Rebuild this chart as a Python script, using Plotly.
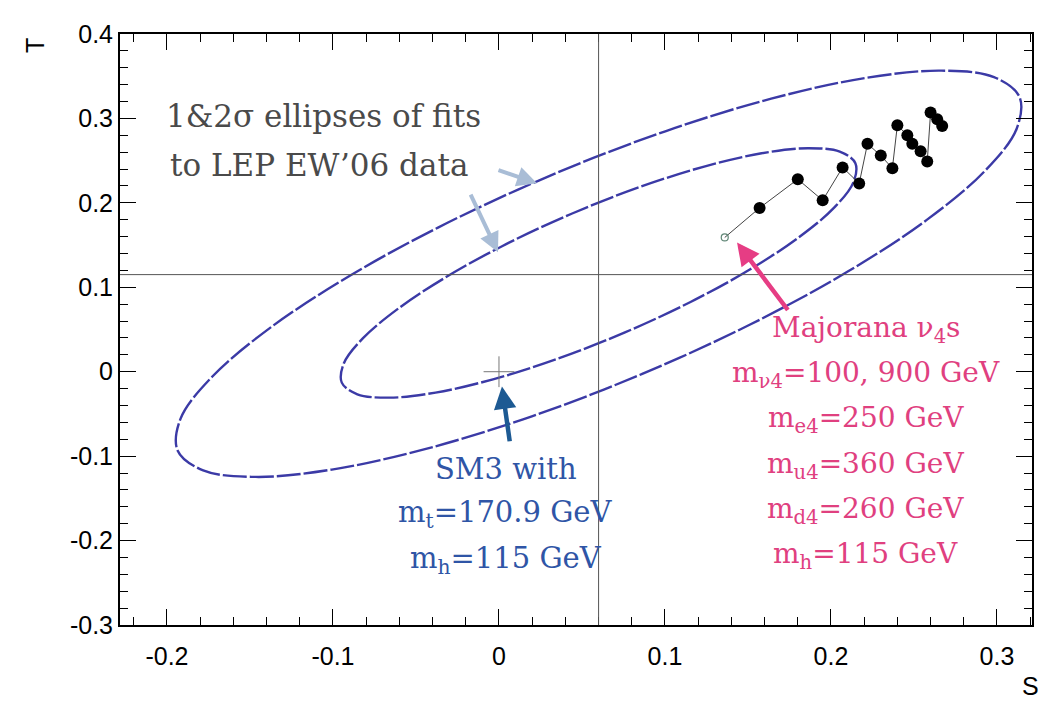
import plotly.graph_objects as go

# ---- data ----
# 2-sigma (outer) ellipse contour, S and T
outer_S = [0.3136, 0.3118, 0.2928, 0.2579, 0.2096, 0.1510, 0.0863, 0.0198, -0.0440, -0.1007, -0.1465, -0.1782,
           -0.1936, -0.1918, -0.1728, -0.1379, -0.0896, -0.0310, 0.0337, 0.1002, 0.1640, 0.2207, 0.2665, 0.2982, 0.3136]
outer_T = [0.3253, 0.2875, 0.2380, 0.1801, 0.1180, 0.0556, -0.0026, -0.0528, -0.0914, -0.1159, -0.1246, -0.1169,
           -0.0933, -0.0555, -0.0060, 0.0519, 0.1140, 0.1764, 0.2346, 0.2848, 0.3234, 0.3479, 0.3566, 0.3489, 0.3253]
# 1-sigma (inner) ellipse contour
inner_S = [0.2147, 0.2135, 0.2019, 0.1806, 0.1511, 0.1154, 0.0759, 0.0354, -0.0036, -0.0382, -0.0661, -0.0853,
           -0.0947, -0.0935, -0.0819, -0.0606, -0.0311, 0.0046, 0.0441, 0.0846, 0.1236, 0.1582, 0.1861, 0.2053, 0.2147]
inner_T = [0.2469, 0.2243, 0.1943, 0.1591, 0.1210, 0.0826, 0.0466, 0.0154, -0.0090, -0.0247, -0.0307, -0.0267,
           -0.0129, 0.0097, 0.0397, 0.0749, 0.1130, 0.1514, 0.1874, 0.2186, 0.2430, 0.2587, 0.2647, 0.2607, 0.2469]
# Majorana nu4 scan points
maj_S = [0.136, 0.157, 0.180, 0.195, 0.207, 0.217, 0.222, 0.230, 0.237, 0.240, 0.246, 0.249, 0.254, 0.258, 0.260, 0.264, 0.267]
maj_T = [0.159, 0.194, 0.228, 0.203, 0.242, 0.223, 0.270, 0.256, 0.241, 0.292, 0.280, 0.270, 0.261, 0.249, 0.307, 0.299, 0.291]
# SM3 reference point
sm_S = [0.0]
sm_T = [0.0]
# fit centre (cross-hair lines)
centre_S = 0.06
centre_T = 0.115

x_ticks = [-0.2, -0.1, 0, 0.1, 0.2, 0.3]
x_labels = ["-0.2", "-0.1", "0", "0.1", "0.2", "0.3"]
y_ticks = [-0.3, -0.2, -0.1, 0, 0.1, 0.2, 0.3, 0.4]
y_labels = ["-0.3", "-0.2", "-0.1", "0", "0.1", "0.2", "0.3", "0.4"]

sm_lines = ["SM3 with", "m<sub>t</sub>=170.9 GeV", "m<sub>h</sub>=115 GeV"]
maj_lines = ["Majorana ν<sub>4</sub>s", "m<sub>ν4</sub>=100, 900 GeV", "m<sub>e4</sub>=250 GeV",
             "m<sub>u4</sub>=360 GeV", "m<sub>d4</sub>=260 GeV", "m<sub>h</sub>=115 GeV"]
fit_lines = ["1&amp;2σ ellipses of fits", "to LEP EW’06 data"]

ELL = "#3b3aa6"
SERIF = "DejaVu Serif, Liberation Serif, serif"
SANS = "Liberation Sans Narrow, Liberation Sans, Arial, sans-serif"

fig = go.Figure()

# cross-hair lines through fit centre
fig.add_shape(type="line", xref="x", yref="paper", x0=centre_S, x1=centre_S, y0=0, y1=1,
              line=dict(color="#555555", width=1))
fig.add_shape(type="line", xref="paper", yref="y", x0=0, x1=1, y0=centre_T, y1=centre_T,
              line=dict(color="#555555", width=1))

for s, t in [(outer_S, outer_T), (inner_S, inner_T)]:
    fig.add_trace(go.Scatter(x=s, y=t, mode="lines",
                             line=dict(color=ELL, width=2.4, dash="24px,3px", shape="spline", smoothing=1.0),
                             hoverinfo="skip", showlegend=False))

fig.add_trace(go.Scatter(x=maj_S, y=maj_T, mode="lines", line=dict(color="#444444", width=1), showlegend=False))
fig.add_trace(go.Scatter(x=maj_S[1:], y=maj_T[1:], mode="markers",
                         marker=dict(color="black", size=12, symbol="circle"), showlegend=False))
fig.add_trace(go.Scatter(x=maj_S[:1], y=maj_T[:1], mode="markers",
                         marker=dict(color="#5f8575", size=7, symbol="circle-open", line=dict(width=1.2, color="#5f8575")),
                         showlegend=False))
fig.add_trace(go.Scatter(x=sm_S, y=sm_T, mode="markers",
                         marker=dict(symbol="cross-thin-open", size=22, color="#777777",
                                     line=dict(color="#777777", width=1)),
                         showlegend=False))

ann = []
# fit text
for i, txt in enumerate(fit_lines):
    ann.append(dict(x=-0.2015 + 0.002 * i, y=0.303 - 0.058 * i, xref="x", yref="y", text=txt, showarrow=False,
                    xanchor="left", yanchor="middle", font=dict(family=SERIF, size=31, color="#4a4a4a")))
# SM3 text
for i, txt in enumerate(sm_lines):
    ann.append(dict(x=0.004, y=-0.115 - 0.054 * i, xref="x", yref="y", text=txt, showarrow=False,
                    xanchor="center", yanchor="middle", font=dict(family=SERIF, size=29, color="#2f55a6")))
# Majorana text
for i, txt in enumerate(maj_lines):
    ann.append(dict(x=0.221, y=0.050 - 0.0535 * i, xref="x", yref="y", text=txt, showarrow=False,
                    xanchor="center", yanchor="middle", font=dict(family=SERIF, size=28, color="#e0407f")))

# arrows
arrows = [
    (0.1434, 0.153, 0.1747, 0.0713, "#e63d84", 4.5),
    (0.0018, -0.0175, 0.0066, -0.0841, "#1d5a93", 4.5),
    (0.0229, 0.2231, -0.0012, 0.2395, "#a9bdd6", 4),
    (-0.0006, 0.1414, -0.0175, 0.2114, "#a9bdd6", 4),
]
for hx, hy, tx, ty, col, w in arrows:
    ann.append(dict(x=hx, y=hy, ax=tx, ay=ty, xref="x", yref="y", axref="x", ayref="y", text="",
                    showarrow=True, arrowhead=2, arrowsize=1.0, arrowwidth=w, arrowcolor=col))

# axis titles
ann.append(dict(x=-0.093, y=0.98, xref="paper", yref="paper", text="T", showarrow=False, textangle=-90,
                xanchor="center", yanchor="middle", font=dict(family=SANS, size=25, color="black")))
ann.append(dict(x=0.998, y=-0.103, xref="paper", yref="paper", text="S", showarrow=False,
                xanchor="center", yanchor="middle", font=dict(family=SANS, size=25, color="black")))

# page body has an 8px margin: figure is sized to fit inside the window
fig.update_layout(
    width=1049, height=699,
    margin=dict(l=112, r=25, t=18, b=82),
    paper_bgcolor="white", plot_bgcolor="white",
    font=dict(family=SANS, size=24, color="black"),
    showlegend=False,
    annotations=ann,
    xaxis=dict(range=[-0.2283, 0.3211], tickvals=x_ticks, ticktext=x_labels, ticks="inside", ticklen=16,
               tickwidth=1, tickcolor="black", showline=True, linecolor="black", linewidth=2, mirror="allticks",
               showgrid=False, zeroline=False, ticklabelstandoff=8,
               tickfont=dict(family=SANS, size=25, color="black"),
               minor=dict(dtick=0.02, tick0=0, ticks="inside", ticklen=8, tickcolor="black", tickwidth=1, showgrid=False)),
    yaxis=dict(range=[-0.3, 0.4], tickvals=y_ticks, ticktext=y_labels, ticks="inside", ticklen=16,
               tickwidth=1, tickcolor="black", showline=True, linecolor="black", linewidth=2, mirror="allticks",
               showgrid=False, zeroline=False,
               tickfont=dict(family=SANS, size=25, color="black"),
               minor=dict(dtick=0.02, tick0=0, ticks="inside", ticklen=8, tickcolor="black", tickwidth=1, showgrid=False)),
)

fig.write_html("out.html")
